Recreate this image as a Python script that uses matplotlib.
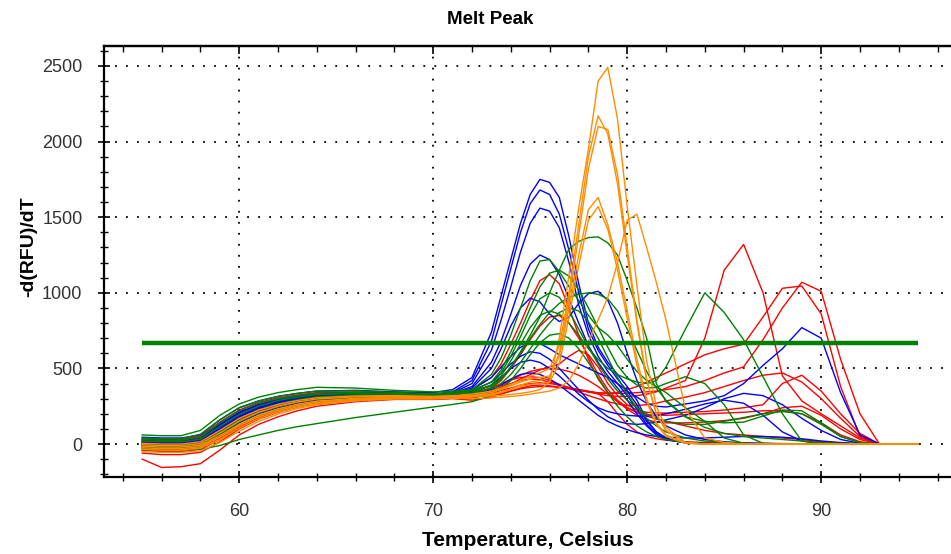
import matplotlib
matplotlib.use("Agg")
import matplotlib.pyplot as plt
import numpy as np
from matplotlib.ticker import MultipleLocator

nan = np.nan

# temperature grid (Celsius)
temps = [55, 56, 57, 58, 59, 60, 61, 62, 63, 64, 66, 68, 70, 71,
         72, 73, 73.5, 74, 74.5, 75, 75.5, 76, 76.5, 77, 77.5, 78, 78.5, 79, 79.5, 80, 80.5, 81, 81.5, 82,
         83, 84, 85, 86, 87, 88, 89, 90, 91, 92, 93, 95]

# -d(RFU)/dT
blue_curves = [
    [45, 40, 40, 60, 160, 240, 285, 315, 335, 350, 355, 345, 340, 360,
     440, 740, 980, 1220, 1460, 1650, 1750, 1730, 1630, 1370, 1060, 800, 640, 540, 460, 380, 290, 160, 80, 40,
     10, 3, 2, 2, 2, 1, 1, 0, 0, 0, 0, nan],
    [20, 15, 15, 35, 125, 205, 258, 292, 316, 332, 340, 335, 330, 345,
     420, 680, 920, 1160, 1400, 1590, 1680, 1650, 1520, 1280, 1000, 760, 620, 520, 430, 350, 260, 150, 80, 40,
     10, 3, 2, 2, 1, 1, 0, 0, 0, 0, 0, nan],
    [0, -5, -5, 12, 92, 178, 236, 274, 300, 318, 330, 330, 325, 338,
     400, 620, 820, 1040, 1270, 1460, 1560, 1540, 1430, 1200, 920, 720, 580, 480, 400, 320, 230, 130, 70, 30,
     8, 3, 2, 1, 1, 0, 0, 0, 0, 0, 0, nan],
    [30, 25, 25, 42, 132, 212, 262, 295, 315, 328, 335, 330, 322, 335,
     380, 540, 680, 860, 1050, 1190, 1250, 1220, 1120, 960, 800, 650, 540, 450, 370, 290, 200, 120, 60, 30,
     8, 3, 2, 1, 1, 0, 0, 0, 0, 0, 0, nan],
    [10, 5, 5, 22, 100, 185, 240, 280, 305, 320, 330, 328, 320, 332,
     370, 500, 630, 780, 900, 965, 940, 860, 810, 840, 930, 995, 1010, 950, 800, 600, 420, 280, 180, 120,
     60, 30, 15, 8, 5, 3, 2, 1, 0, 0, 0, nan],
    [-10, -15, -15, 0, 70, 150, 210, 250, 280, 300, 315, 315, 310, 322,
     360, 440, 510, 580, 640, 670, 665, 630, 590, 560, 530, 500, 470, 440, 400, 350, 310, 270, 250, 245,
     265, 285, 320, 400, 520, 630, 770, 700, 340, 60, 0, nan],
    [5, 0, 0, 15, 95, 180, 235, 270, 295, 310, 320, 320, 312, 322,
     350, 410, 470, 530, 580, 610, 600, 560, 500, 430, 360, 290, 230, 180, 150, 135, 130, 135, 145, 160,
     190, 240, 300, 335, 320, 260, 170, 90, 30, 5, 0, nan],
    [-20, -25, -25, -10, 60, 140, 200, 240, 270, 290, 305, 310, 305, 318,
     340, 390, 440, 500, 540, 555, 540, 500, 450, 390, 330, 280, 240, 215, 200, 190, 185, 185, 190, 200,
     230, 265, 290, 270, 190, 80, 20, 5, 0, 0, 0, nan],
    [15, 10, 10, 28, 110, 192, 245, 282, 306, 322, 330, 325, 318, 325,
     330, 360, 390, 430, 460, 470, 460, 430, 390, 340, 290, 240, 190, 150, 120, 95, 75, 60, 50, 45,
     40, 40, 45, 50, 50, 45, 35, 20, 10, 3, 0, nan],
]

green_curves = [
    [60, 55, 55, 90, 190, 265, 310, 340, 360, 375, 370, 355, 345, 350,
     360, 380, 430, 510, 610, 720, 840, 1000, 1150, 1290, 1340, 1365, 1370, 1330, 1250, 1080, 900, 700, 400, 280,
     180, 110, 70, 50, 40, 30, 20, 10, 5, 2, 0, 0],
    [30, 25, 25, 45, 140, 220, 270, 300, 320, 335, 340, 335, 325, 332,
     345, 390, 450, 550, 660, 770, 850, 880, 860, 800, 720, 630, 560, 500, 460, 430, 410, 400, 420, 510,
     760, 1000, 870, 690, 445, 200, 20, 2, 0, 0, 0, 0],
    [-5, -10, -10, 5, 80, 165, 225, 265, 292, 312, 325, 325, 320, 330,
     360, 460, 570, 720, 900, 1080, 1210, 1220, 1140, 1040, 950, 850, 770, 720, 650, 560, 480, 420, 380, 340,
     240, 150, 40, 5, 0, 0, 0, 0, 0, 0, 0, 0],
    [40, 35, 35, 65, 160, 240, 285, 315, 335, 350, 352, 342, 332, 342,
     355, 410, 490, 610, 750, 900, 1040, 1130, 1150, 1110, 1020, 900, 770, 640, 520, 440, 390, 370, 375, 400,
     445, 400, 260, 60, 5, 0, 0, 0, 0, 0, 0, 0],
    [-25, -30, -30, -15, 50, 125, 185, 225, 255, 278, 300, 308, 305, 315,
     330, 370, 430, 510, 600, 700, 790, 870, 930, 970, 990, 1000, 990, 960, 880, 760, 620, 480, 370, 290,
     180, 150, 140, 145, 185, 225, 220, 140, 50, 10, 0, 0],
    [20, 15, 15, 32, 115, 195, 250, 288, 310, 326, 335, 330, 322, 333,
     335, 390, 470, 580, 710, 850, 960, 1000, 970, 880, 760, 640, 530, 430, 350, 290, 240, 200, 170, 150,
     130, 130, 150, 175, 200, 215, 200, 130, 50, 10, 0, 0],
    [-15, -20, -20, -5, 65, 145, 205, 245, 275, 295, 310, 315, 310, 318,
     325, 350, 400, 460, 540, 630, 720, 800, 870, 900, 880, 810, 700, 570, 440, 330, 240, 170, 120, 80,
     40, 20, 10, 5, 0, 0, 0, 0, 0, 0, 0, 0],
    [-40, -40, -40, -35, -10, 30, 60, 90, 115, 135, 175, 210, 245, 262,
     280, 320, 360, 420, 500, 590, 670, 720, 730, 700, 630, 540, 440, 340, 250, 180, 120, 80, 50, 30,
     10, 5, 0, 0, 0, 0, 0, 0, 0, 0, 0, 0],
]

red_curves = [
    [-5, -10, -10, 5, 85, 170, 228, 268, 295, 314, 326, 325, 318, 326,
     330, 345, 355, 370, 390, 400, 405, 400, 390, 375, 360, 345, 330, 320, 315, 315, 320, 330, 345, 370,
     420, 700, 1150, 1320, 1000, 450, 285, 200, 120, 40, 0, nan],
    [10, 5, 5, 20, 100, 182, 238, 276, 302, 318, 328, 325, 316, 325,
     330, 350, 375, 400, 420, 430, 425, 410, 390, 370, 355, 345, 338, 335, 340, 360, 380, 410, 440, 470,
     530, 590, 630, 660, 840, 1030, 1045, 860, 380, 50, 0, nan],
    [-30, -35, -35, -20, 40, 120, 185, 228, 260, 282, 300, 305, 300, 308,
     310, 320, 335, 350, 370, 385, 390, 385, 375, 365, 355, 345, 340, 335, 335, 335, 340, 345, 350, 360,
     380, 420, 470, 510, 690, 900, 1070, 1010, 560, 200, 0, nan],
    [-60, -70, -70, -55, 15, 100, 165, 210, 245, 270, 292, 300, 298, 303,
     310, 330, 360, 395, 430, 460, 490, 510, 530, 580, 620, 590, 510, 400, 320, 260, 225, 210, 205, 205,
     210, 215, 225, 240, 260, 400, 455, 350, 200, 70, 0, nan],
    [25, 20, 20, 38, 125, 205, 258, 292, 314, 328, 335, 330, 322, 330,
     340, 370, 400, 425, 440, 445, 440, 420, 395, 370, 345, 320, 300, 280, 265, 255, 255, 260, 270, 285,
     310, 340, 380, 420, 455, 470, 410, 300, 170, 50, 0, nan],
    [35, 30, 30, 52, 145, 225, 275, 305, 325, 340, 345, 338, 328, 338,
     360, 440, 530, 660, 800, 950, 1080, 1120, 1060, 900, 720, 560, 430, 340, 280, 240, 210, 185, 165, 150,
     120, 90, 70, 60, 50, 40, 30, 15, 5, 0, 0, nan],
    [-10, -15, -15, 0, 75, 158, 218, 258, 286, 305, 318, 320, 315, 322,
     330, 370, 420, 500, 590, 690, 780, 840, 850, 800, 700, 580, 460, 360, 290, 240, 210, 195, 190, 190,
     195, 200, 205, 210, 220, 220, 200, 140, 60, 15, 0, nan],
    [-100, -155, -150, -130, -40, 60, 130, 180, 220, 250, 280, 295, 295, 300,
     290, 310, 330, 350, 365, 375, 380, 380, 375, 370, 360, 350, 335, 280, 200, 130, 80, 50, 35, 25,
     15, 10, 8, 5, 3, 2, 0, 0, 0, 0, 0, nan],
    [-40, -50, -50, -35, 30, 110, 175, 218, 252, 276, 296, 302, 300, 306,
     300, 340, 380, 420, 455, 480, 495, 500, 495, 480, 455, 420, 380, 330, 280, 230, 190, 160, 145, 140,
     140, 145, 155, 170, 200, 240, 250, 190, 100, 30, 0, nan],
]

orange_curves = [
    [-15, -20, -20, -8, 55, 130, 190, 232, 262, 284, 302, 310, 308, 312,
     315, 318, 322, 328, 335, 345, 360, 410, 700, 1120, 1560, 1950, 2400, 2490, 2150, 1570, 1050, 550, 250, 110,
     10, 0, 0, 0, 0, 0, 0, 0, 0, 0, 0, 0],
    [5, 0, 0, 15, 90, 170, 225, 262, 288, 306, 318, 320, 315, 320,
     330, 350, 370, 395, 420, 450, 470, 500, 650, 1000, 1450, 1900, 2170, 2050, 1720, 1250, 800, 420, 200, 90,
     10, 0, 0, 0, 0, 0, 0, 0, 0, 0, 0, 0],
    [-25, -30, -30, -18, 45, 120, 180, 222, 254, 276, 296, 305, 303, 308,
     315, 330, 345, 365, 390, 410, 420, 440, 600, 950, 1380, 1820, 2100, 2080, 1780, 1300, 820, 430, 200, 90,
     10, 0, 0, 0, 0, 0, 0, 0, 0, 0, 0, 0],
    [-5, -10, -10, 3, 72, 152, 210, 250, 278, 298, 312, 316, 312, 318,
     320, 340, 360, 385, 410, 430, 440, 450, 580, 900, 1250, 1550, 1630, 1450, 1200, 880, 560, 300, 140, 60,
     5, 0, 0, 0, 0, 0, 0, 0, 0, 0, 0, 0],
    [-35, -40, -40, -28, 30, 105, 168, 212, 245, 268, 290, 300, 300, 305,
     310, 325, 340, 360, 380, 395, 400, 410, 530, 840, 1180, 1480, 1570, 1420, 1150, 830, 520, 280, 130, 50,
     5, 0, 0, 0, 0, 0, 0, 0, 0, 0, 0, 0],
    [-50, -55, -55, -45, 10, 85, 150, 198, 235, 260, 285, 298, 298, 302,
     300, 305, 310, 315, 320, 330, 340, 350, 370, 420, 530, 680, 820, 970, 1200, 1480, 1520, 1300, 1070, 820,
     230, 40, 10, 0, 0, 0, 0, 0, 0, 0, 0, 0],
]

threshold = 665
threshold_range = [55, 95]

plt.rcParams['font.family'] = ['Liberation Sans', 'DejaVu Sans']

fig = plt.figure(figsize=(9.51, 5.54), dpi=100)
ax = fig.add_axes([104 / 951, 77 / 554, 847 / 951, 431 / 554])

for c in red_curves:
    ax.plot(temps, c, color="#ff0000", lw=1.0)
for c in blue_curves:
    ax.plot(temps, c, color="#0000ff", lw=1.0)
for c in green_curves:
    ax.plot(temps, c, color="#008000", lw=1.0)
for c in orange_curves:
    ax.plot(temps, c, color="#ff8c00", lw=1.0)
ax.plot(threshold_range, [threshold, threshold], color="#008000", lw=3.2, solid_capstyle="butt")

ax.set_xlim(53.03, 96.69)
ax.set_ylim(-218, 2632)

ax.xaxis.set_major_locator(MultipleLocator(10))
ax.xaxis.set_minor_locator(MultipleLocator(2))
ax.yaxis.set_major_locator(MultipleLocator(500))
ax.yaxis.set_minor_locator(MultipleLocator(100))

ax.grid(True, which="major", color="black", linestyle=(0, (1, 5.1)), lw=1.3)
ax.set_axisbelow(True)

for s in ["left", "bottom", "top"]:
    ax.spines[s].set_linewidth(1.6)
ax.spines["right"].set_visible(False)

ax.tick_params(axis="both", which="major", direction="inout", length=9, width=1.2,
               labelsize=13, labelcolor="#333333")
ax.tick_params(axis="both", which="minor", direction="inout", length=6, width=1.0)
ax.tick_params(axis="x", which="major", pad=14)
ax.tick_params(axis="y", which="major", pad=11)

top = ax.secondary_xaxis("top")
top.xaxis.set_major_locator(MultipleLocator(10))
top.xaxis.set_minor_locator(MultipleLocator(2))
top.tick_params(which="major", direction="in", length=6, width=1.2, labelsize=0, labeltop=False)
top.tick_params(which="minor", direction="in", length=4, width=1.0)
top.spines["top"].set_linewidth(1.6)

fig.text(490 / 951, 1 - 20 / 554, "Melt Peak", ha="center", va="center",
         fontsize=13.5, fontweight="bold")
fig.text(528 / 951, 1 - 540 / 554, "Temperature, Celsius", ha="center", va="center",
         fontsize=15, fontweight="bold")
fig.text(29 / 951, 1 - 247 / 554, "-d(RFU)/dT", ha="center", va="center",
         rotation=90, fontsize=14, fontweight="bold")

fig.savefig("out.png", dpi=100)
